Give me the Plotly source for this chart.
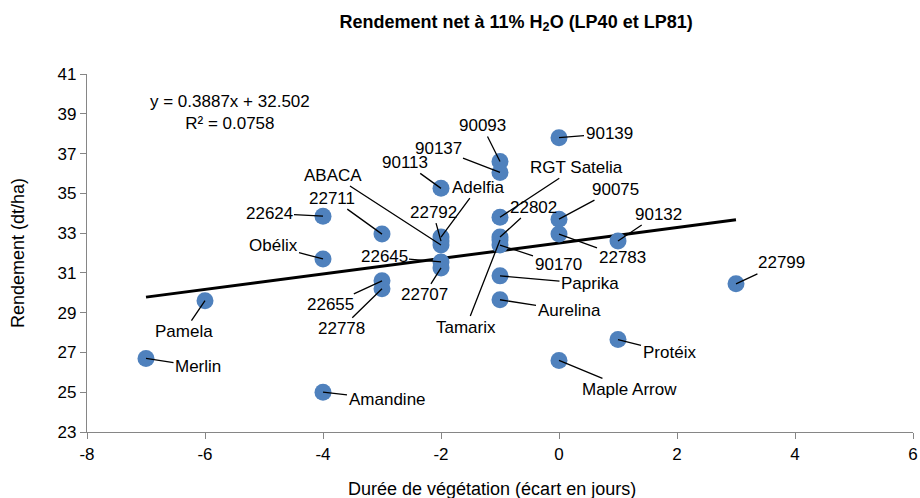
import plotly.graph_objects as go

# ---- data ----
varietes = ["Merlin", "Pamela", "Amandine", "Obélix", "22624", "22711", "22655", "22778",
            "ABACA", "22792", "Adelfia", "22645", "22707", "90113",
            "90093", "90137", "RGT Satelia", "22802", "Tamarix", "90170", "Paprika", "Aurelina",
            "90139", "90075", "22783", "Maple Arrow", "90132", "Protéix", "22799"]
duree = [-7, -6, -4, -4, -4, -3, -3, -3,
         -2, -2, -2, -2, -2, -2,
         -1, -1, -1, -1, -1, -1, -1, -1,
         0, 0, 0, 0, 1, 1, 3]
rendement = [26.7, 29.6, 25.0, 31.7, 33.85, 32.95, 30.6, 30.2,
             32.4, 32.6, 32.8, 31.55, 31.25, 35.25,
             36.6, 36.05, 33.8, 32.8, 32.65, 32.4, 30.85, 29.65,
             37.8, 33.7, 32.95, 26.6, 32.6, 27.65, 30.45]
pente = 0.3887
ordonnee = 32.502
r2 = 0.0758
x_tendance = [min(duree), max(duree)]
x_ticks = [-8, -6, -4, -2, 0, 2, 4, 6]
y_ticks = [23, 25, 27, 29, 31, 33, 35, 37, 39, 41]

# label offsets in pixels (layout only)
offsets = {
    "Merlin": (52, 8), "Pamela": (-21, 31), "Amandine": (64, 7), "Obélix": (-50, -13),
    "22624": (-54, -3), "22711": (-50, -36), "22655": (-52, 24), "22778": (-41, 40),
    "ABACA": (-108, -70), "22792": (-8, -29), "Adelfia": (37, -50), "22645": (-57, -5),
    "22707": (-17, 27), "90113": (-36, -26), "90093": (-18, -36), "90137": (-62, -24),
    "RGT Satelia": (76, -50), "22802": (33, -30), "Tamarix": (-34, 87), "90170": (58, 19),
    "Paprika": (90, 8), "Aurelina": (69, 11), "90139": (50, -4), "90075": (56, -30),
    "22783": (63, 23), "Maple Arrow": (70, 29), "90132": (40, -27), "Protéix": (51, 13),
    "22799": (45, -21),
}

FONT = "Liberation Sans, Arial, sans-serif"

fig = go.Figure()
fig.add_trace(go.Scatter(
    x=x_tendance, y=[pente * v + ordonnee for v in x_tendance],
    mode="lines", line=dict(color="black", width=3), hoverinfo="skip", showlegend=False))
fig.add_trace(go.Scatter(
    x=duree, y=rendement, mode="markers", text=varietes,
    marker=dict(color="#4F81BD", size=17, line=dict(width=0)), showlegend=False))

ann = []
for n, xv, yv in zip(varietes, duree, rendement):
    ax, ay = offsets[n]
    ann.append(dict(x=xv, y=yv, xref="x", yref="y", text=n, showarrow=True,
                    ax=ax, ay=ay, arrowhead=0, arrowwidth=1.3, arrowcolor="black",
                    standoff=0, startstandoff=0,
                    font=dict(family=FONT, size=17, color="black")))
# trendline equation
ann.append(dict(x=-5.57, y=39.05, xref="x", yref="y",
                text=f"y = {pente}x + {ordonnee}<br>R² = {r2}", showarrow=False,
                align="center", font=dict(family=FONT, size=17, color="black")))
# axis titles
ann.append(dict(x=0.49, y=0, xref="paper", yref="paper", yshift=-57,
                text="Durée de végétation (écart en jours)", showarrow=False,
                xanchor="center", yanchor="middle",
                font=dict(family=FONT, size=18, color="black")))
ann.append(dict(x=0, y=0.5, xref="paper", yref="paper", xshift=-69,
                text="Rendement (dt/ha)", showarrow=False, textangle=-90,
                xanchor="center", yanchor="middle",
                font=dict(family=FONT, size=18, color="black")))

fig.update_layout(
    width=920, height=498,
    margin=dict(l=87, r=7, t=74, b=66, autoexpand=False),
    paper_bgcolor="white", plot_bgcolor="white",
    title=dict(text="Rendement net à 11% H<sub>2</sub>O (LP40 et LP81)",
               x=0.561, xanchor="center", y=0.957, yanchor="middle",
               font=dict(family=FONT, size=18, color="black", weight="bold")),
    font=dict(family=FONT, color="black"),
    annotations=ann,
)
fig.update_xaxes(range=[-8, 6], tickvals=x_ticks, ticktext=[str(v) for v in x_ticks],
                 showgrid=False, zeroline=False,
                 showline=True, linecolor="#868686", linewidth=1.3, automargin=False,
                 ticks="outside", ticklen=6, tickcolor="#868686", ticklabeloverflow="allow",
                 tickfont=dict(family=FONT, size=17, color="black"))
fig.update_yaxes(range=[23, 41], tickvals=y_ticks, ticktext=[str(v) for v in y_ticks],
                 showgrid=False, zeroline=False,
                 showline=True, linecolor="#868686", linewidth=1.3, automargin=False,
                 ticks="outside", ticklen=6, tickcolor="#868686", ticklabeloverflow="allow",
                 tickfont=dict(family=FONT, size=17, color="black"))

fig.write_html("out.html", config={"displayModeBar": False},
               post_script="document.body.style.margin='0';document.body.style.overflow='hidden';")
